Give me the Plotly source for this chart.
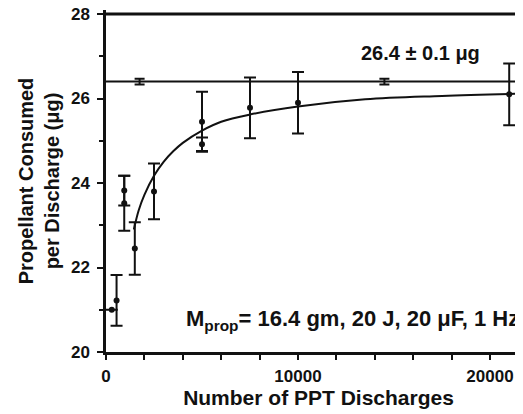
"""Propellant consumed per discharge vs number of PPT discharges."""

import plotly.graph_objects as go


# Measured points (number of discharges, µg per discharge, ± error)
disch = [300, 550, 950, 950, 1500, 2500, 5000, 5000, 7500, 10000, 21000]
consumed = [21.0, 21.22, 23.82, 23.52, 22.45, 23.8, 25.45, 24.92, 25.78, 25.9, 26.1]
consumed_err = [0.0, 0.6, 0.35, 0.65, 0.62, 0.66, 0.71, 0.16, 0.72, 0.73, 0.73]

# Fitted curve
fit_x = [1450, 1700, 2000, 2500, 3000, 3500, 4000, 5000, 6000, 7500,
         10000, 13500, 17500, 22000]
fit_y = [22.9, 23.35, 23.72, 24.17, 24.5, 24.75, 24.95, 25.24, 25.45, 25.62,
         25.81, 25.98, 26.06, 26.12]

# Mean value line and its small error markers
mean_value = 26.4
mean_x = [1750, 14500]
mean_err = [0.07, 0.07]

Y_TOP = 28

FONT = "Liberation Sans"
INK = "#111111"

fig = go.Figure()

fig.add_hline(y=mean_value, line={"color": INK, "width": 2})
# top frame line, drawn inside the plot area
fig.add_hline(y=Y_TOP, line={"color": INK, "width": 3})

fig.add_trace(go.Scatter(
    x=mean_x,
    y=[mean_value] * len(mean_x),
    mode="markers",
    marker={"size": 1, "color": INK},
    error_y={"type": "data", "array": mean_err, "color": INK,
             "thickness": 2, "width": 5},
    showlegend=False
))

fig.add_trace(go.Scatter(
    x=fit_x,
    y=fit_y,
    mode="lines",
    line={"color": INK, "width": 2, "shape": "spline"},
    showlegend=False
))

fig.add_trace(go.Scatter(
    x=disch,
    y=consumed,
    mode="markers",
    marker={"size": 6, "color": INK},
    error_y={"type": "data", "array": consumed_err, "color": INK,
             "thickness": 2, "width": 6},
    showlegend=False
))

fig.add_annotation(
    x=16400, y=27.07, text="26.4 ± 0.1 μg", showarrow=False,
    font={"family": FONT, "size": 20, "color": INK, "weight": "bold"}
)
fig.add_annotation(
    x=21600, y=20.38, text="M<sub>prop</sub>= 16.4 gm, 20 J, 20 μF, 1 Hz",
    showarrow=False, xanchor="right", yanchor="bottom",
    font={"family": FONT, "size": 22, "color": INK, "weight": "bold"}
)

tick_font = {"family": FONT, "size": 17, "color": INK, "weight": "bold"}

# the page body adds an 8 px offset; the y range runs a little past 28 so the
# top frame line sits inside the plot area
fig.update_layout(
    width=523,
    height=414,
    margin={"l": 98, "r": 0, "t": 2, "b": 70},
    plot_bgcolor="white",
    paper_bgcolor="white",
    xaxis={
        "range": [0, 22135],
        "dtick": 10000,
        "tickformat": "d",
        "automargin": False,
        "showgrid": False,
        "zeroline": False,
        "showline": True,
        "linecolor": INK,
        "linewidth": 2.5,
        "ticks": "outside",
        "ticklen": 5,
        "tickwidth": 2,
        "tickcolor": INK,
        "minor": {"dtick": 2000, "ticks": "outside", "ticklen": 5,
                  "tickwidth": 1.5, "tickcolor": INK, "showgrid": False},
        "tickfont": tick_font,
        "ticklabelstandoff": 2,
        "ticklabeloverflow": "allow",
        "title": {"text": "Number of PPT Discharges",
                  "font": {"family": FONT, "size": 21, "color": INK,
                           "weight": "bold"},
                  "standoff": 2}
    },
    yaxis={
        "range": [20, 28.095],
        "tickvals": [20, 22, 24, 26, 28],
        "automargin": False,
        "showgrid": False,
        "zeroline": False,
        "showline": True,
        "linecolor": INK,
        "linewidth": 2.5,
        "ticks": "outside",
        "ticklen": 6,
        "tickwidth": 2,
        "tickcolor": INK,
        "minor": {"tickvals": [21, 23, 25, 27], "ticks": "outside",
                  "ticklen": 4, "tickwidth": 1.5, "tickcolor": INK,
                  "showgrid": False},
        "tickfont": tick_font,
        "ticklabelstandoff": 4,
        "ticklabeloverflow": "allow",
        "title": {"text": "Propellant Consumed<br>per Discharge (μg)",
                  "font": {"family": FONT, "size": 20, "color": INK,
                           "weight": "bold"},
                  "standoff": 6}
    }
)

fig.write_html("out.html")
